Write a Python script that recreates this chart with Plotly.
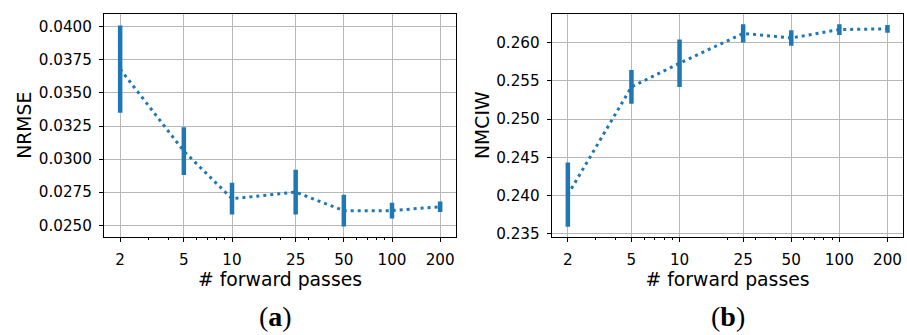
import plotly.graph_objects as go

# ---- data ----
passes = [2, 5, 10, 25, 50, 100, 200]
tick_labels = ["2", "5", "10", "25", "50", "100", "200"]
minor_ticks = [3, 4, 6, 7, 8, 9, 20, 30, 40, 60, 70, 80, 90]

nrmse_mean = [0.0368, 0.0306, 0.0270, 0.0275, 0.0261, 0.0261, 0.0264]
nrmse_err = [0.0033, 0.0018, 0.0012, 0.0017, 0.0012, 0.0006, 0.0004]

nmciw_mean = [0.2401, 0.2542, 0.2573, 0.2612, 0.2606, 0.2617, 0.2618]
nmciw_err = [0.0042, 0.0022, 0.0031, 0.0012, 0.0010, 0.0007, 0.0005]

nrmse_ticks = [0.0250, 0.0275, 0.0300, 0.0325, 0.0350, 0.0375, 0.0400]
nmciw_ticks = [0.235, 0.240, 0.245, 0.250, 0.255, 0.260]

BLUE = "#1f77b4"
FONT = "DejaVu Sans"
W, H = 907, 335

def px(x):
    return x / W

def py(y):
    return (H - y) / H

fig = go.Figure()

def add_series(mean, err, xa, ya):
    fig.add_trace(go.Scatter(
        x=passes, y=mean, mode="lines",
        line=dict(color=BLUE, width=3, dash="3px,4px"),
        error_y=dict(type="data", array=err, visible=True, color=BLUE,
                     thickness=4.5, width=0),
        xaxis=xa, yaxis=ya, showlegend=False, hoverinfo="x+y"))

add_series(nrmse_mean, nrmse_err, "x", "y")
add_series(nmciw_mean, nmciw_err, "x2", "y2")

TICKSIZE = 15.2
TITLESIZE = 18.8
ydom = [py(241), py(14)]
common_x = dict(
    type="log", range=[0.2, 2.4], tickmode="array", tickvals=passes,
    ticktext=tick_labels, ticks="outside", ticklen=4, tickcolor="black",
    ticklabelstandoff=5,
    showline=True, mirror=True, linecolor="black", linewidth=1,
    showgrid=True, gridcolor="#b8b8b8", gridwidth=1, zeroline=False,
    tickfont=dict(family=FONT, size=TICKSIZE, color="black"),
    title=dict(text="# forward passes", font=dict(family=FONT, size=TITLESIZE, color="black"), standoff=3),
    minor=dict(tickmode="array", tickvals=minor_ticks, ticks="outside", ticklen=2,
               tickcolor="black", showgrid=False),
)
common_y = dict(
    tickmode="array", ticks="outside", ticklen=4, tickcolor="black",
    ticklabelstandoff=4,
    showline=True, mirror=True, linecolor="black", linewidth=1,
    showgrid=True, gridcolor="#b8b8b8", gridwidth=1, zeroline=False,
    tickfont=dict(family=FONT, size=TICKSIZE, color="black"),
)

fig.update_layout(
    width=W, height=H, margin=dict(l=0, r=0, t=0, b=0),
    paper_bgcolor="white", plot_bgcolor="white",
    xaxis=dict(domain=[px(104), px(456)], anchor="y", **common_x),
    xaxis2=dict(domain=[px(551.7), px(903.3)], anchor="y2", **common_x),
    yaxis=dict(domain=ydom, anchor="x", range=[0.02413, 0.04099],
               tickvals=nrmse_ticks, tickformat=".4f",
               title=dict(text="NRMSE", font=dict(family=FONT, size=TITLESIZE, color="black"), standoff=2),
               **common_y),
    yaxis2=dict(domain=ydom, anchor="x2", range=[0.23461, 0.26377],
                tickvals=nmciw_ticks, tickformat=".3f",
                title=dict(text="NMCIW", font=dict(family=FONT, size=TITLESIZE, color="black"), standoff=1),
                **common_y),
    annotations=[
        dict(text="(<b>a</b>)", x=px(275), y=py(322), xref="paper", yref="paper",
             xanchor="center", yanchor="middle",
             showarrow=False, font=dict(family="Liberation Serif", size=28, color="black")),
        dict(text="(<b>b</b>)", x=px(728), y=py(322), xref="paper", yref="paper",
             xanchor="center", yanchor="middle",
             showarrow=False, font=dict(family="Liberation Serif", size=28, color="black")),
    ],
)

fig.write_html(
    "out.html",
    config={"displayModeBar": False},
    post_script="document.body.style.margin='0';document.body.style.overflow='hidden';",
)
